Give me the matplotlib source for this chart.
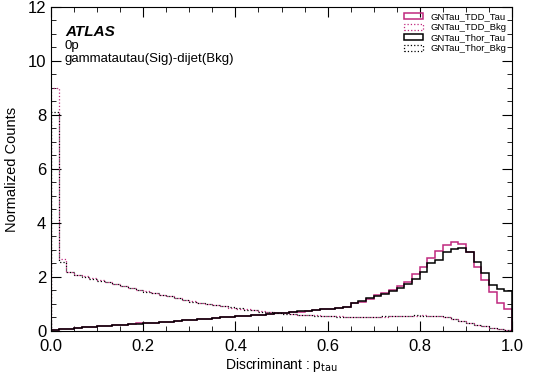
import numpy as np
import matplotlib.pyplot as plt

plt.rcParams['font.family'] = ['Liberation Sans', 'DejaVu Sans']

# 60 bins on [0, 1]
bin_edges = np.linspace(0, 1, 61)

tdd_tau = [0.03, 0.06, 0.09, 0.11, 0.13, 0.15, 0.17, 0.19, 0.21, 0.23,
           0.25, 0.28, 0.30, 0.31, 0.33, 0.35, 0.37, 0.39, 0.41, 0.43,
           0.45, 0.47, 0.50, 0.52, 0.54, 0.56, 0.59, 0.61, 0.63, 0.66,
           0.68, 0.70, 0.72, 0.75, 0.77, 0.80, 0.83, 0.87, 0.90, 1.02,
           1.09, 1.17, 1.33, 1.40, 1.52, 1.67, 1.83, 2.11, 2.38, 2.72,
           2.96, 3.19, 3.31, 3.21, 2.94, 2.38, 1.89, 1.46, 1.05, 0.81]

thor_tau = [0.04, 0.06, 0.08, 0.11, 0.13, 0.15, 0.17, 0.19, 0.21, 0.24,
            0.26, 0.27, 0.29, 0.31, 0.33, 0.35, 0.37, 0.39, 0.42, 0.44,
            0.45, 0.48, 0.50, 0.52, 0.54, 0.57, 0.59, 0.61, 0.64, 0.66,
            0.68, 0.70, 0.73, 0.75, 0.78, 0.80, 0.83, 0.86, 0.88, 1.04,
            1.12, 1.21, 1.28, 1.38, 1.47, 1.59, 1.75, 1.93, 2.20, 2.51,
            2.63, 2.94, 3.04, 3.06, 2.94, 2.57, 2.14, 1.70, 1.54, 1.49]

tdd_bkg = [9.00, 2.65, 2.20, 2.08, 2.02, 1.95, 1.88, 1.80, 1.74, 1.68,
           1.60, 1.53, 1.47, 1.41, 1.35, 1.28, 1.22, 1.15, 1.10, 1.05,
           1.00, 0.96, 0.92, 0.87, 0.83, 0.80, 0.76, 0.73, 0.70, 0.67,
           0.65, 0.63, 0.61, 0.59, 0.58, 0.56, 0.55, 0.54, 0.53, 0.53,
           0.52, 0.52, 0.53, 0.53, 0.54, 0.55, 0.56, 0.57, 0.58, 0.57,
           0.54, 0.50, 0.44, 0.37, 0.30, 0.24, 0.17, 0.12, 0.08, 0.04]

thor_bkg = [8.10, 2.55, 2.20, 2.07, 2.01, 1.94, 1.87, 1.81, 1.73, 1.67,
            1.61, 1.52, 1.46, 1.40, 1.34, 1.29, 1.21, 1.16, 1.09, 1.05,
            1.01, 0.95, 0.91, 0.88, 0.84, 0.79, 0.76, 0.72, 0.70, 0.68,
            0.64, 0.62, 0.61, 0.60, 0.57, 0.56, 0.55, 0.53, 0.53, 0.52,
            0.52, 0.53, 0.52, 0.54, 0.54, 0.55, 0.56, 0.58, 0.57, 0.56,
            0.55, 0.51, 0.45, 0.38, 0.31, 0.23, 0.18, 0.11, 0.07, 0.04]

labels = ['GNTau_TDD_Tau', 'GNTau_TDD_Bkg', 'GNTau_Thor_Tau', 'GNTau_Thor_Bkg']

magenta = '#c0287f'

fig = plt.figure(figsize=(5.33, 3.76), dpi=100)
ax = fig.add_axes([0.0957, 0.1197, 0.8649, 0.8617])

centers = 0.5 * (bin_edges[:-1] + bin_edges[1:])
ax.hist(centers, bins=bin_edges, weights=tdd_tau, histtype='step',
        color=magenta, lw=1.1, label=labels[0])
ax.hist(centers, bins=bin_edges, weights=tdd_bkg, histtype='step',
        color=magenta, lw=0.9, ls=':', label=labels[1])
ax.hist(centers, bins=bin_edges, weights=thor_tau, histtype='step',
        color='black', lw=1.1, label=labels[2])
ax.hist(centers, bins=bin_edges, weights=thor_bkg, histtype='step',
        color='black', lw=0.9, ls=':', label=labels[3])

ax.set_xlim(0, 1)
ax.set_ylim(0, 12)
ax.set_xticks(np.arange(0, 1.01, 0.2))
ax.set_xticks(np.arange(0, 1.01, 0.05), minor=True)
ax.set_yticks(np.arange(0, 12.1, 2))
ax.set_yticks(np.arange(0, 12.1, 0.5), minor=True)
ax.tick_params(which='both', direction='in', top=True, right=True, labelsize=12)
ax.tick_params(which='major', length=7)
ax.tick_params(which='minor', length=3.5)
ax.tick_params(axis='x', pad=6)

ax.set_xlabel('Discriminant : p$_{\\mathrm{tau}}$', fontsize=10, labelpad=1)
ax.set_ylabel('Normalized Counts', fontsize=10.5, labelpad=6)

ax.text(0.03, 0.91, 'ATLAS', transform=ax.transAxes, fontsize=11,
        fontweight='bold', fontstyle='italic')
ax.text(0.03, 0.87, '0p', transform=ax.transAxes, fontsize=9.5)
ax.text(0.03, 0.83, 'gammatautau(Sig)-dijet(Bkg)', transform=ax.transAxes, fontsize=9.5)

ax.legend(loc='upper right', frameon=False, fontsize=6.8, handlelength=2.0,
          handleheight=0.6, handletextpad=0.8, labelspacing=0.15,
          borderpad=0.4, borderaxespad=0.2)

fig.savefig('out.png', dpi=100)
